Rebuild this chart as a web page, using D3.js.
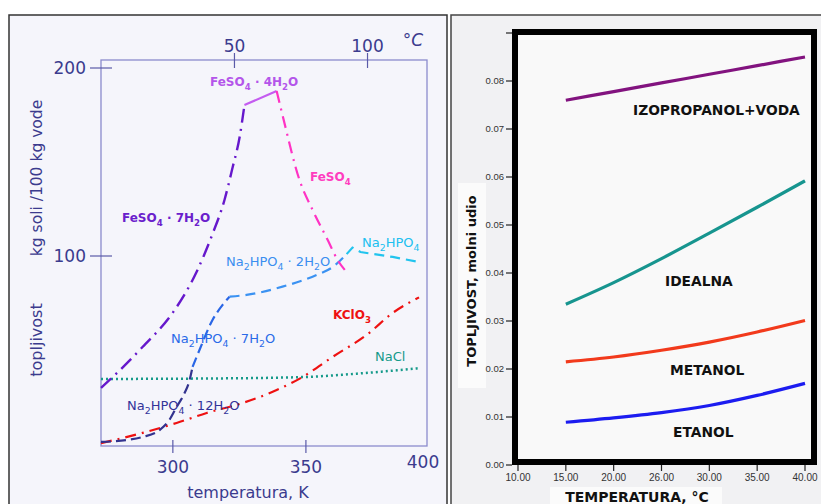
<!DOCTYPE html>
<html><head><meta charset="utf-8">
<script src="https://cdn.jsdelivr.net/npm/d3@7/dist/d3.min.js"></script>
<style>body{margin:0;background:#fff;}svg{display:block;}</style>
</head><body>
<svg id="c" width="821" height="504"></svg>
<script>
// ---------- LEFT PANEL DATA (temperature K, kg salt / 100 kg water) ----------
const fe7T = [273, 277.4, 288.6, 299.9, 308.9, 314.9, 319.4, 322.4, 325.1, 326.9];
const fe7V = [29.8, 35.6, 51.6, 69.7, 91.5, 111.7, 129.8, 146.8, 163.3, 180.3];
const fe4T = [326.9, 339];
const fe4V = [180.3, 187.8];
const feT = [339, 341.2, 347.6, 352.5, 358.2, 361.9, 364.6];
const feV = [187.8, 175, 140.4, 124.5, 108.5, 97.9, 92.6];
const na12T = [273, 282.6, 288.6, 295, 298.7, 301.4, 304.4, 306.3, 307.4];
const na12V = [1.1, 2.1, 3.7, 7.4, 12.8, 19.7, 27.1, 34, 41];
const na7T = [307.4, 310, 314.9, 318.7, 321.3];
const na7V = [41, 50, 66, 74, 78.4];
const na2T = [321.3, 327.7, 341.2, 354, 360, 365.3];
const na2V = [78.4, 79.3, 83.7, 89.9, 94.1, 101];
const naT = [365.3, 367.5, 370.5, 382.6, 392.5];
const naV = [101, 104.5, 102.1, 99.5, 96.8];
const kclT = [273, 288.6, 301.4, 312.7, 326.2, 339, 348.7, 360, 372.8, 382.6, 392.5];
const kclV = [0.5, 5.9, 11.2, 16.5, 21.8, 28.7, 35.6, 46.3, 58, 69.7, 78];
const naclT = [273, 310, 348.7, 370, 393.1];
const naclV = [34.6, 34.8, 35.6, 37.5, 40.4];
const leftYTicks = [100, 200];
const leftKTicks = [300, 350];
const leftCTicks = [50, 100];

// ---------- RIGHT PANEL DATA (temperature °C, mole fraction) ----------
const rT = [15, 20, 25, 30, 35, 40];
const izo = [0.0760, 0.0778, 0.0796, 0.0814, 0.0832, 0.0850];
const idealna = [0.0335, 0.0380, 0.0430, 0.0483, 0.0537, 0.0592];
const metanol = [0.0215, 0.0225, 0.0239, 0.0256, 0.0277, 0.0301];
const etanol = [0.0089, 0.0098, 0.0109, 0.0124, 0.0145, 0.0170];
const rXTicks = [10, 15, 20, 25, 30, 35, 40];
const rXLabels = ["10.00", "15.00", "20.00", "26.00", "30.00", "35.00", "40.00"];
const rYTicks = [0, 0.01, 0.02, 0.03, 0.04, 0.05, 0.06, 0.07, 0.08, 0.09];
const rYLabels = ["0.00", "0.01", "0.02", "0.03", "0.04", "0.05", "0.06", "0.07", "0.08", ""];

const svg = d3.select("#c");
const zip = (a, b) => a.map((v, i) => [v, b[i]]);

function rich(sel, str) {
  const parts = str.split(/(_\d+)/).filter(s => s.length);
  let shifted = false;
  parts.forEach(p => {
    if (p[0] === "_") {
      sel.append("tspan").attr("font-size", "72%").attr("dy", 4).text(p.slice(1));
      shifted = true;
    } else {
      const t = sel.append("tspan").text(p);
      if (shifted) { t.attr("dy", -4); shifted = false; }
    }
  });
}

// ================= LEFT PANEL =================
const LF = "'DejaVu Sans', sans-serif";
const txtC = "#3b3b8e";
svg.append("rect").attr("x", 9).attr("y", 15).attr("width", 438).attr("height", 500)
  .attr("fill", "#f5f5fb").attr("stroke", "#333").attr("stroke-width", 1.5);

const xK = d3.scaleLinear().domain([273, 395.5]).range([101, 427]);
const yL = d3.scaleLinear().domain([0, 200]).range([444, 68]);

svg.append("rect").attr("x", 101).attr("y", 60).attr("width", 326).attr("height", 386)
  .attr("fill", "none").attr("stroke", "#8a8acc").attr("stroke-width", 1.3);

const axC = "#5a5aa8";
leftYTicks.forEach(v => {
  svg.append("line").attr("x1", 90).attr("x2", 112).attr("y1", yL(v)).attr("y2", yL(v))
    .attr("stroke", axC).attr("stroke-width", 1.2);
  svg.append("text").attr("x", 86).attr("y", yL(v) + 6).attr("text-anchor", "end")
    .attr("font-family", LF).attr("font-size", 17).attr("fill", txtC).text(v);
});
leftKTicks.forEach(v => {
  svg.append("line").attr("x1", xK(v)).attr("x2", xK(v)).attr("y1", 440).attr("y2", 453)
    .attr("stroke", axC).attr("stroke-width", 1.2);
  svg.append("text").attr("x", xK(v)).attr("y", 473).attr("text-anchor", "middle")
    .attr("font-family", LF).attr("font-size", 17).attr("fill", txtC).text(v);
});
svg.append("text").attr("x", 423).attr("y", 468).attr("text-anchor", "middle")
  .attr("font-family", LF).attr("font-size", 17).attr("fill", txtC).text("400");
leftCTicks.forEach(c => {
  const x = xK(c + 273.15);
  svg.append("line").attr("x1", x).attr("x2", x).attr("y1", 53).attr("y2", 68)
    .attr("stroke", axC).attr("stroke-width", 1.2);
  svg.append("text").attr("x", x).attr("y", 52).attr("text-anchor", "middle")
    .attr("font-family", LF).attr("font-size", 17).attr("fill", txtC).text(c);
});
svg.append("text").attr("x", 413).attr("y", 46).attr("text-anchor", "middle")
  .attr("font-family", LF).attr("font-size", 17).attr("font-style", "italic").attr("fill", txtC).text("°C");

svg.append("text").attr("x", 248).attr("y", 498).attr("text-anchor", "middle")
  .attr("font-family", LF).attr("font-size", 16).attr("fill", txtC).text("temperatura, K");
svg.append("text").attr("transform", "translate(42,178) rotate(-90)").attr("text-anchor", "middle")
  .attr("font-family", LF).attr("font-size", 15.5).attr("fill", txtC).text("kg soli /100 kg vode");
svg.append("text").attr("transform", "translate(42,340) rotate(-90)").attr("text-anchor", "middle")
  .attr("font-family", LF).attr("font-size", 16).attr("fill", txtC).text("topljivost");

const lineL = (curve) => d3.line().x(d => xK(d[0])).y(d => yL(d[1])).curve(curve);
const seriesL = [
  { T: naclT, V: naclV, c: "#169a8a", dash: "2,3", w: 2.5, curve: d3.curveMonotoneX },
  { T: kclT, V: kclV, c: "#ee1111", dash: "11,6,2,6", w: 2.2, curve: d3.curveMonotoneX },
  { T: na12T, V: na12V, c: "#33338f", dash: "10,5", w: 2.2, curve: d3.curveMonotoneX },
  { T: na7T, V: na7V, c: "#2a66e6", dash: "10,5", w: 2.2, curve: d3.curveMonotoneX },
  { T: na2T, V: na2V, c: "#3b92f2", dash: "10,6", w: 2.2, curve: d3.curveMonotoneX },
  { T: naT, V: naV, c: "#22c4ee", dash: "10,6", w: 2.2, curve: d3.curveLinear },
  { T: fe7T, V: fe7V, c: "#6618cc", dash: "14,6,2,6", w: 2.4, curve: d3.curveMonotoneX },
  { T: fe4T, V: fe4V, c: "#c45cf0", dash: null, w: 2.2, curve: d3.curveLinear },
  { T: feT, V: feV, c: "#ff33c4", dash: "12,6,2,6", w: 2.2, curve: d3.curveMonotoneX }
];
seriesL.forEach(s => {
  svg.append("path").attr("d", lineL(s.curve)(zip(s.T, s.V))).attr("fill", "none")
    .attr("stroke", s.c).attr("stroke-width", s.w).attr("stroke-dasharray", s.dash);
});

const labelsL = [
  { t: "FeSO_4 · 4H_2O", x: 210, y: 86, c: "#b455ea", b: true },
  { t: "FeSO_4", x: 310, y: 181, c: "#ff3dbf", b: true },
  { t: "FeSO_4 · 7H_2O", x: 122, y: 222, c: "#6a20cc", b: true },
  { t: "Na_2HPO_4 · 2H_2O", x: 226, y: 266, c: "#3a8ef0", b: false },
  { t: "Na_2HPO_4", x: 362, y: 247, c: "#20c0f0", b: false },
  { t: "KClO_3", x: 333, y: 319, c: "#ee1111", b: true },
  { t: "NaCl", x: 375, y: 361, c: "#149a8a", b: false },
  { t: "Na_2HPO_4 · 7H_2O", x: 171, y: 343, c: "#2a6ae8", b: false },
  { t: "Na_2HPO_4 · 12H_2O", x: 127, y: 410, c: "#333399", b: false }
];
labelsL.forEach(l => {
  const t = svg.append("text").attr("x", l.x).attr("y", l.y).attr("font-family", LF)
    .attr("font-size", l.b ? 12 : 13).attr("font-weight", l.b ? "bold" : "normal").attr("fill", l.c);
  rich(t, l.t);
});

// ================= RIGHT PANEL =================
svg.append("rect").attr("x", 451).attr("y", 15).attr("width", 380).attr("height", 500)
  .attr("fill", "#f1f1f3").attr("stroke", "#444").attr("stroke-width", 1.5);
svg.append("rect").attr("x", 458).attr("y", 183).attr("width", 28).attr("height", 205).attr("fill", "#fbfbfb");
svg.append("rect").attr("x", 550).attr("y", 487).attr("width", 172).attr("height", 20).attr("fill", "#fbfbfb");

const xR = d3.scaleLinear().domain([10, 40]).range([518, 805]);
const yR = d3.scaleLinear().domain([0, 0.09]).range([465, 33]);

svg.append("rect").attr("x", 515).attr("y", 32).attr("width", 299).attr("height", 430)
  .attr("fill", "#f9f9f9").attr("stroke", "#000").attr("stroke-width", 6);

const RF = "'Liberation Sans', Arial, sans-serif";
rYTicks.forEach((v, i) => {
  svg.append("line").attr("x1", 506).attr("x2", 512).attr("y1", yR(v)).attr("y2", yR(v))
    .attr("stroke", "#222").attr("stroke-width", 1.2);
  svg.append("text").attr("x", 504).attr("y", yR(v) + 3).attr("text-anchor", "end")
    .attr("font-family", RF).attr("font-size", 9.5).attr("fill", "#333").text(rYLabels[i]);
});
rXTicks.forEach((v, i) => {
  svg.append("line").attr("x1", xR(v)).attr("x2", xR(v)).attr("y1", 465).attr("y2", 471)
    .attr("stroke", "#222").attr("stroke-width", 1.2);
  svg.append("text").attr("x", xR(v)).attr("y", 481).attr("text-anchor", "middle")
    .attr("font-family", RF).attr("font-size", 10).attr("fill", "#333").text(rXLabels[i]);
});

const BF = "'DejaVu Sans', sans-serif";
svg.append("text").attr("x", 637).attr("y", 502).attr("text-anchor", "middle")
  .attr("font-family", BF).attr("font-weight", "bold").attr("font-size", 14).attr("fill", "#111")
  .text("TEMPERATURA, °C");
svg.append("text").attr("transform", "translate(476,281) rotate(-90)").attr("text-anchor", "middle")
  .attr("font-family", BF).attr("font-weight", "bold").attr("font-size", 13).attr("fill", "#111")
  .text("TOPLJIVOST, molni udio");

const lineR = d3.line().x(d => xR(d[0])).y(d => yR(d[1])).curve(d3.curveMonotoneX);
[[izo, "#82137f"], [idealna, "#17958f"], [metanol, "#f23a1c"], [etanol, "#1c1cf0"]].forEach(([v, c]) => {
  svg.append("path").attr("d", lineR(zip(rT, v))).attr("fill", "none")
    .attr("stroke", c).attr("stroke-width", 3.2);
});

const labelsR = [
  { t: "IZOPROPANOL+VODA", x: 633, y: 115 },
  { t: "IDEALNA", x: 665, y: 286 },
  { t: "METANOL", x: 670, y: 375 },
  { t: "ETANOL", x: 673, y: 437 }
];
labelsR.forEach(l => {
  svg.append("text").attr("x", l.x).attr("y", l.y).attr("font-family", BF).attr("font-weight", "bold")
    .attr("font-size", 13.8).attr("fill", "#111").text(l.t);
});
</script>
</body></html>
